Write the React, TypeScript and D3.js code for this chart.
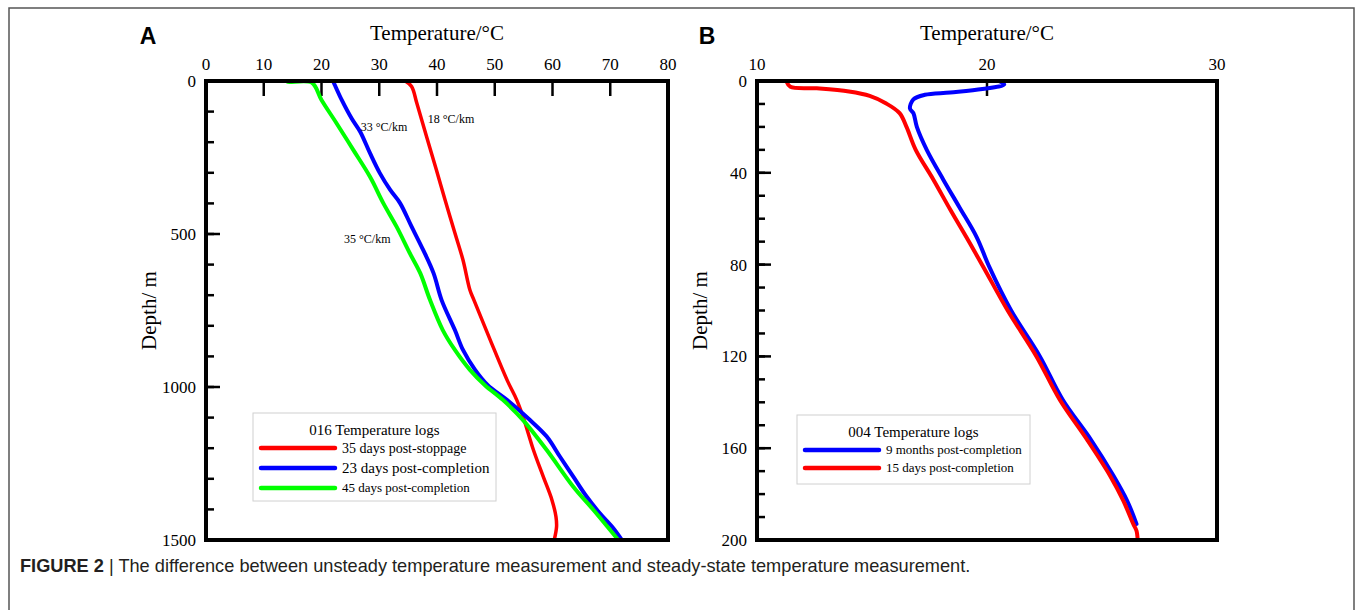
import * as d3 from "d3";
import React from "react";

// panel A: well 016, [depth m, temperature °C]
const a35daysStoppage = [
  [0, 34.5], [18, 35.6], [72, 36.5], [182, 38.2], [291, 39.9], [389, 41.4],
  [497, 43.1], [585, 44.5], [683, 45.7], [716, 46.4], [850, 49.3], [980, 52.2],
  [1042, 53.8], [1097, 54.9], [1206, 56.7], [1293, 58.4], [1369, 59.9],
  [1424, 60.6], [1457, 60.7], [1500, 60.3],
];
const a23daysCompletion = [
  [0, 22.0], [13, 22.3], [62, 23.5], [122, 25.2], [166, 26.7], [236, 28.4],
  [301, 30.1], [356, 31.9], [399, 33.6], [476, 35.6], [552, 37.6], [628, 39.4],
  [716, 40.8], [814, 43.1], [879, 44.5], [944, 46.6], [994, 48.8], [1042, 52.1],
  [1108, 56.1], [1162, 59.0], [1228, 61.3], [1293, 63.6], [1358, 65.9],
  [1413, 68.2], [1461, 70.5], [1500, 72.0],
];
const a45daysCompletion = [
  [0, 13.9], [3, 14.2], [5, 18.3], [62, 20.0], [138, 22.6], [225, 25.5],
  [313, 28.4], [399, 30.7], [476, 33.0], [563, 35.3], [628, 37.1], [716, 38.8],
  [814, 41.0], [879, 43.1], [944, 45.7], [994, 48.3], [1042, 51.4], [1108, 54.9],
  [1206, 59.0], [1326, 63.6], [1402, 67.1], [1500, 71.4],
];

// panel B: well 004
const b9monthsCompletion = [
  [0, 20.5], [1.5, 20.75], [3.5, 19.8], [5, 18.4], [6, 17.3], [8, 16.8],
  [12, 16.65], [14, 16.8], [20, 16.95], [30, 17.38], [43, 18.1], [55, 18.8],
  [68, 19.55], [81, 20.1], [100, 21.05], [120, 22.3], [139, 23.3], [156, 24.5],
  [172, 25.5], [183, 26.1], [193, 26.5],
];
const b15daysCompletion = [
  [0.5, 11.3], [2.5, 11.45], [3.2, 12.6], [4.6, 14.0], [6.5, 14.9], [9.7, 15.6],
  [14, 16.2], [20, 16.5], [30, 16.9], [43, 17.67], [56, 18.4], [68, 19.1],
  [81, 19.84], [100, 20.9], [120, 22.15], [139, 23.17], [156, 24.33],
  [172, 25.35], [183, 25.93], [193, 26.36], [196, 26.5], [200, 26.55],
];

const legendA = ["35 days post-stoppage", "23 days post-completion", "45 days post-completion"];
const legendB = ["9 months post-completion", "15 days post-completion"];

const RED = "#ff0000";
const BLUE = "#0000ff";
const GREEN = "#00ff00";
const serif = "'Liberation Serif', 'Times New Roman', serif";
const sans = "'Liberation Sans', Arial, sans-serif";

function Panel({ letter, letterX, box, xDomain, xTicks, yDomain, yMajor, yMinor, series, legend, annotations }) {
  const x = d3.scaleLinear().domain(xDomain).range([box.left, box.right]);
  const y = d3.scaleLinear().domain(yDomain).range([box.top, box.bottom]);
  const line = d3
    .line()
    .x((d) => x(d[1]))
    .y((d) => y(d[0]))
    .curve(d3.curveCatmullRom.alpha(0.5));

  const midX = (box.left + box.right) / 2;
  const midY = (box.top + box.bottom) / 2;

  return (
    <g>
      <text x={letterX} y={44} textAnchor="middle" fontFamily={sans} fontWeight="bold" fontSize={23}>
        {letter}
      </text>
      <text x={midX} y={40} textAnchor="middle" fontFamily={serif} fontSize={21}>
        Temperature/°C
      </text>
      <text
        transform={`translate(${box.left - 50},${midY}) rotate(-90)`}
        textAnchor="middle"
        fontFamily={serif}
        fontSize={21}
      >
        Depth/ m
      </text>

      {/* x ticks along the top */}
      {xTicks.map((t) => (
        <g key={"x" + t}>
          <line x1={x(t)} x2={x(t)} y1={box.top} y2={box.top + 15} stroke="#000" strokeWidth={2.5} />
          <text x={x(t)} y={70} textAnchor="middle" fontFamily={serif} fontSize={17}>
            {t}
          </text>
        </g>
      ))}

      {/* y ticks */}
      {yMinor.map((t) => (
        <line key={"m" + t} x1={box.left} x2={box.left + 8} y1={y(t)} y2={y(t)} stroke="#000" strokeWidth={2.5} />
      ))}
      {yMajor.map((t) => (
        <g key={"y" + t}>
          <line x1={box.left} x2={box.left + 14} y1={y(t)} y2={y(t)} stroke="#000" strokeWidth={2.5} />
          <text x={box.left - 10} y={y(t)} dy="0.35em" textAnchor="end" fontFamily={serif} fontSize={17}>
            {t}
          </text>
        </g>
      ))}

      {series.map((s) => (
        <path key={s.name} d={line(s.data)} fill="none" stroke={s.color} strokeWidth={s.width} strokeLinejoin="round" strokeLinecap="round" />
      ))}

      {annotations.map((a) => (
        <text key={a.text} x={x(a.t)} y={y(a.d)} fontFamily={serif} fontSize={12}>
          {a.text}
        </text>
      ))}

      <rect
        x={box.left}
        y={box.top}
        width={box.right - box.left}
        height={box.bottom - box.top}
        fill="none"
        stroke="#000"
        strokeWidth={4}
      />

      {/* legend */}
      <g>
        <rect x={legend.x} y={legend.y} width={legend.w} height={legend.h} fill="#fff" stroke="#d0d0d0" strokeWidth={1} />
        <text x={legend.x + legend.w / 2} y={legend.y + 22} textAnchor="middle" fontFamily={serif} fontSize={15}>
          {legend.title}
        </text>
        {legend.items.map((it, i) => (
          <g key={it.label}>
            <line
              x1={legend.x + 8}
              x2={legend.x + 82}
              y1={legend.y + 35 + i * legend.step}
              y2={legend.y + 35 + i * legend.step}
              stroke={it.color}
              strokeWidth={4.5}
              strokeLinecap="round"
            />
            <text x={legend.x + 89} y={legend.y + 35 + i * legend.step} dy="0.33em" fontFamily={serif} fontSize={it.size}>
              {it.label}
            </text>
          </g>
        ))}
      </g>
    </g>
  );
}

export default function App() {
  return (
    <svg width={1355} height={610} style={{ position: "absolute", left: 0, top: 0, background: "#fff" }}>
      <rect x={0} y={0} width={1355} height={610} fill="#fff" />
      <rect x={9} y={8} width={1345} height={640} fill="none" stroke="#555" strokeWidth={1.5} />

      <Panel
        letter="A"
        letterX={148}
        box={{ left: 206, right: 668, top: 81, bottom: 540 }}
        xDomain={[0, 80]}
        xTicks={d3.range(0, 81, 10)}
        yDomain={[0, 1500]}
        yMajor={d3.range(0, 1501, 500)}
        yMinor={d3.range(0, 1501, 100)}
        series={[
          { name: legendA[0], data: a35daysStoppage, color: RED, width: 3.5 },
          { name: legendA[1], data: a23daysCompletion, color: BLUE, width: 4 },
          { name: legendA[2], data: a45daysCompletion, color: GREEN, width: 4 },
        ]}
        legend={{
          x: 253,
          y: 413,
          w: 243,
          h: 88,
          step: 20,
          title: "016 Temperature logs",
          items: [
            { label: legendA[0], color: RED, size: 14 },
            { label: legendA[1], color: BLUE, size: 15 },
            { label: legendA[2], color: GREEN, size: 13 },
          ],
        }}
        annotations={[
          { text: "33 °C/km", t: 26.8, d: 165 },
          { text: "18 °C/km", t: 38.4, d: 137 },
          { text: "35 °C/km", t: 23.9, d: 530 },
        ]}
      />

      <Panel
        letter="B"
        letterX={707}
        box={{ left: 757, right: 1217, top: 81, bottom: 540 }}
        xDomain={[10, 30]}
        xTicks={[10, 20, 30]}
        yDomain={[0, 200]}
        yMajor={d3.range(0, 201, 40)}
        yMinor={d3.range(0, 201, 10)}
        series={[
          { name: legendB[0], data: b9monthsCompletion, color: BLUE, width: 4 },
          { name: legendB[1], data: b15daysCompletion, color: RED, width: 4 },
        ]}
        legend={{
          x: 797,
          y: 415,
          w: 233,
          h: 69,
          step: 18,
          title: "004 Temperature logs",
          items: [
            { label: legendB[0], color: BLUE, size: 13 },
            { label: legendB[1], color: RED, size: 13 },
          ],
        }}
        annotations={[]}
      />

      <text x={20} y={572} fontFamily={sans} fontSize={18.2} fill="#231f20">
        <tspan fontWeight="bold">FIGURE 2</tspan>
        <tspan> | The difference between unsteady temperature measurement and steady-state temperature measurement.</tspan>
      </text>
    </svg>
  );
}
